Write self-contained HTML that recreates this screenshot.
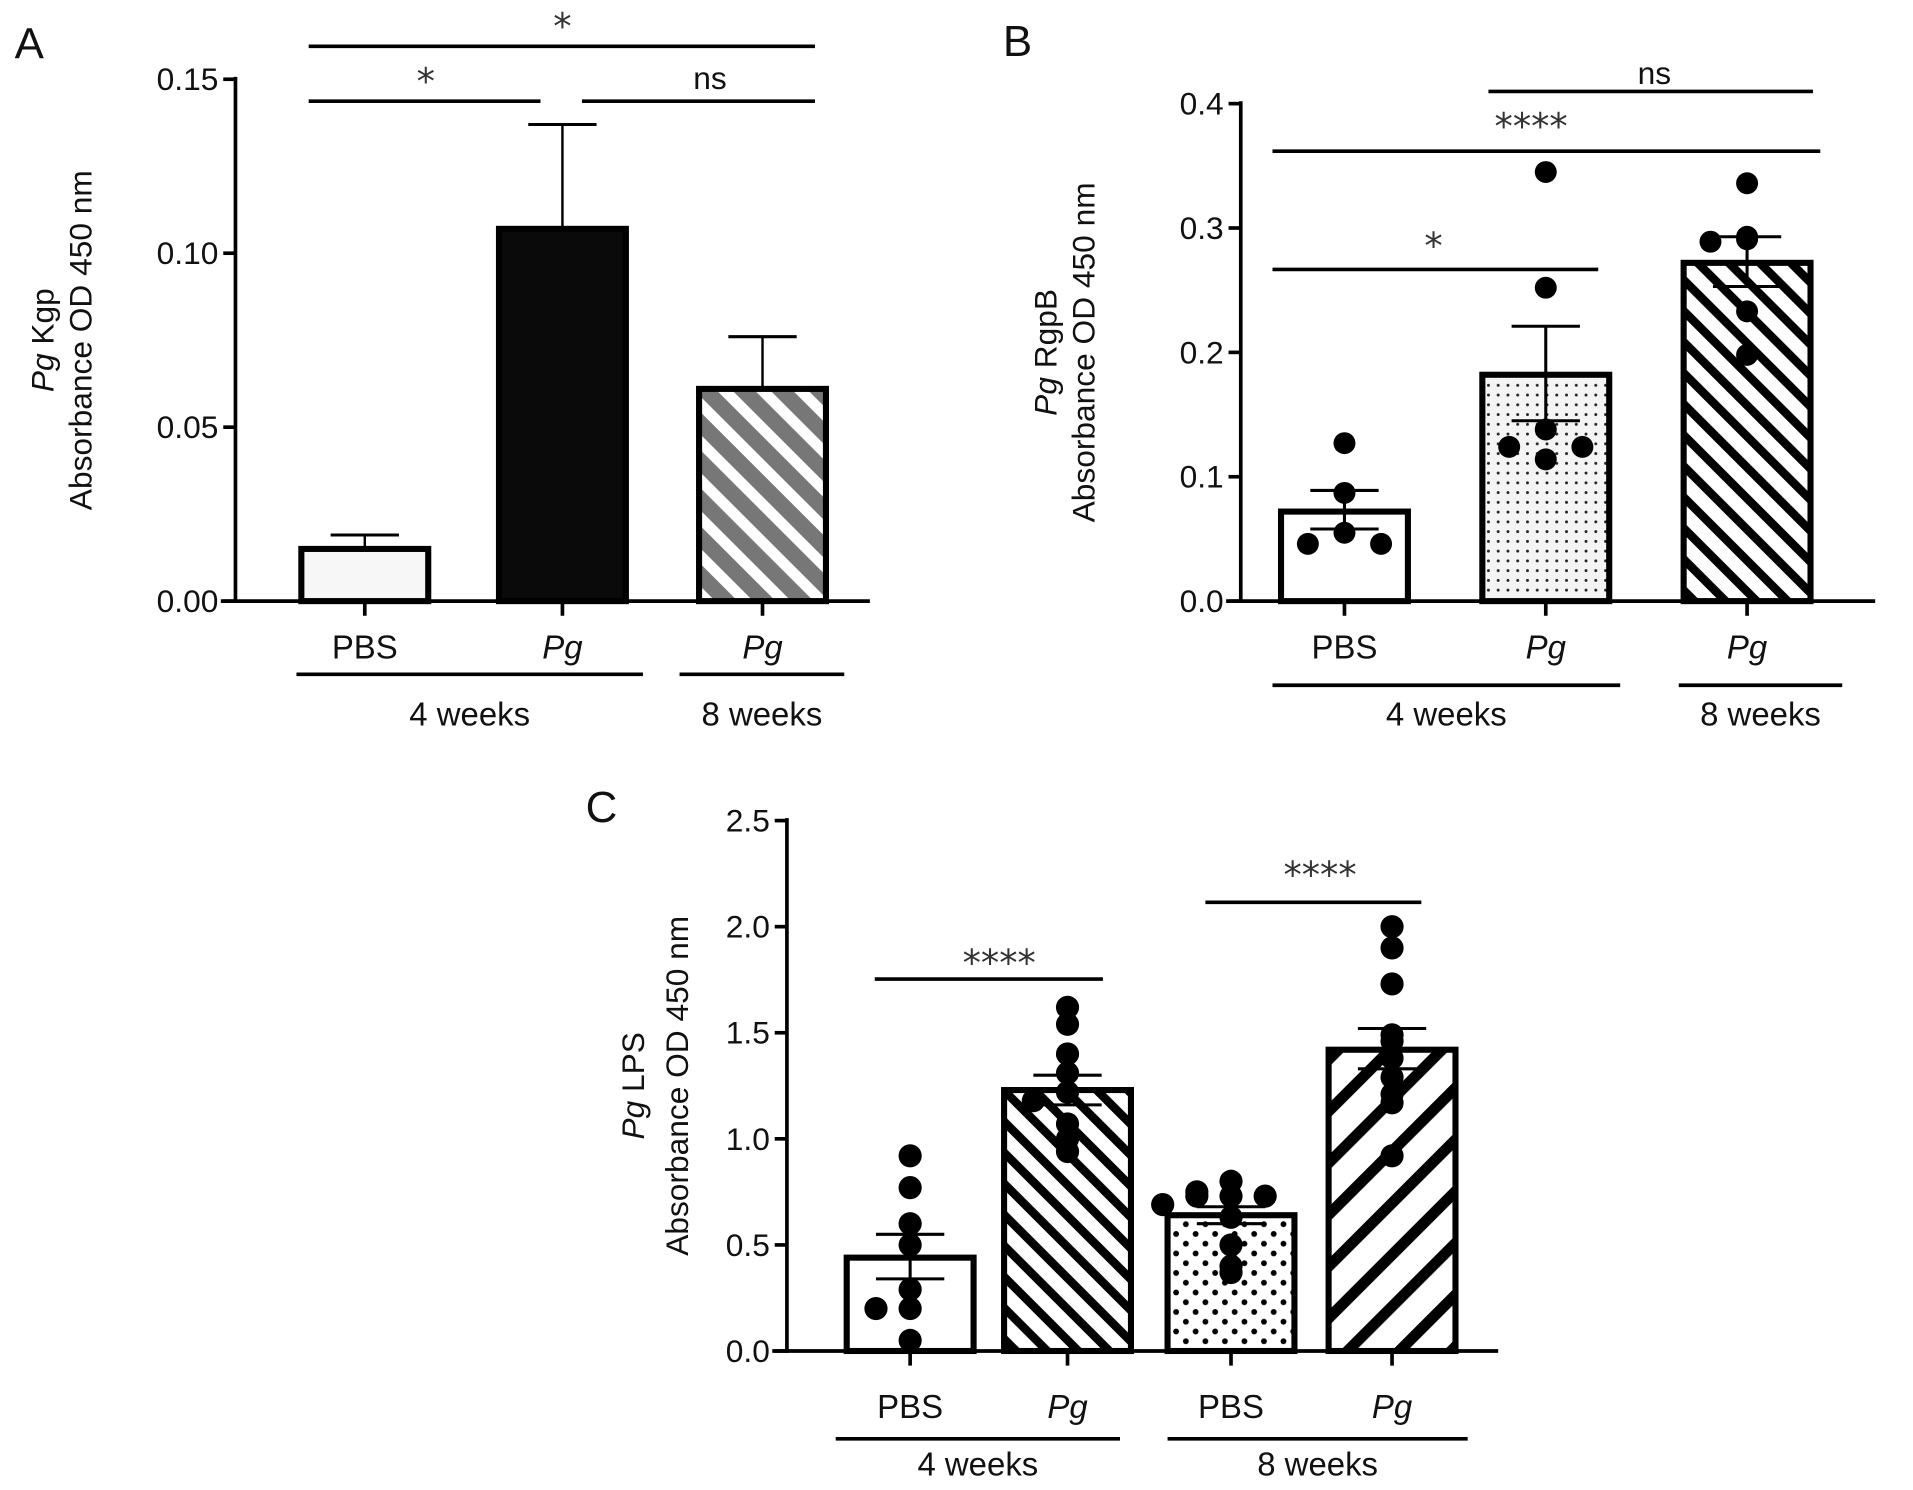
<!DOCTYPE html>
<html><head><meta charset="utf-8"><style>
html,body{margin:0;padding:0;background:#fff;}
svg{display:block;font-family:"Liberation Sans",Arial,sans-serif;}
</style></head><body>
<svg id="fig" width="1913" height="1490" viewBox="0 0 1568 1222" preserveAspectRatio="none" xmlns="http://www.w3.org/2000/svg">
<defs>
<pattern id="grayStripe" patternUnits="userSpaceOnUse" width="22" height="22" patternTransform="rotate(-45)"><rect width="22" height="22" fill="#fff"/><rect width="13" height="22" fill="#777"/></pattern>
<pattern id="blackStripe" patternUnits="userSpaceOnUse" width="18" height="18" patternTransform="rotate(-45)"><rect width="18" height="18" fill="#fff"/><rect width="7" height="18" fill="#000"/></pattern>
<pattern id="blackStripeWide" patternUnits="userSpaceOnUse" width="30" height="30" patternTransform="rotate(45)"><rect width="30" height="30" fill="#fff"/><rect width="9" height="30" fill="#000"/></pattern>
<pattern id="fineDots" patternUnits="userSpaceOnUse" width="8" height="8"><rect width="8" height="8" fill="#f4f4f4"/><circle cx="4" cy="4" r="1.2" fill="#222"/></pattern>
<pattern id="sparseDots" patternUnits="userSpaceOnUse" width="16" height="16"><rect width="16" height="16" fill="#fff"/><circle cx="4" cy="4" r="2.4" fill="#000"/><circle cx="12" cy="12" r="2.4" fill="#000"/></pattern>
</defs>
</svg>
<script>
// Panel A data
const aCats = ["PBS","Pg","Pg"];
const aMeans = [0.015, 0.107, 0.061];
const aErrHi = [0.019, 0.137, 0.076];
const aTicks = ["0.00","0.05","0.10","0.15"];
// Panel B data
const bCats = ["PBS","Pg","Pg"];
const bMeans = [0.072, 0.182, 0.272];
const bErrHi = [0.089, 0.221, 0.293];
const bErrLo = [0.058, 0.145, 0.253];
const bPts0 = [0.127, 0.087, 0.055, 0.046, 0.046];
const bPts1 = [0.345, 0.252, 0.138, 0.114, 0.124, 0.124];
const bPts2 = [0.336, 0.291, 0.293, 0.289, 0.233, 0.198];
const bTicks = ["0.0","0.1","0.2","0.3","0.4"];
// Panel C data
const cCats = ["PBS","Pg","PBS","Pg"];
const cMeans = [0.44, 1.23, 0.64, 1.42];
const cErrHi = [0.55, 1.30, 0.68, 1.52];
const cErrLo = [0.34, 1.16, 0.60, 1.33];
const cPts0 = [0.92, 0.77, 0.60, 0.50, 0.29, 0.20, 0.20, 0.05];
const cPts1 = [1.62, 1.54, 1.40, 1.31, 1.22, 1.18, 1.07, 1.00, 0.94];
const cPts2 = [0.80, 0.75, 0.73, 0.73, 0.73, 0.69, 0.63, 0.50, 0.40, 0.37];
const cPts3 = [2.00, 1.90, 1.73, 1.49, 1.46, 1.38, 1.29, 1.21, 1.17, 0.92];
const cTicks = ["0.0","0.5","1.0","1.5","2.0","2.5"];

const NS="http://www.w3.org/2000/svg";
const svg=document.getElementById('fig');
function mk(tag,attrs,parent){const e=document.createElementNS(NS,tag);for(const k in attrs)e.setAttribute(k,attrs[k]);(parent||svg).appendChild(e);return e;}
function txt(s,x,y,size,parent,anchor,italic){const t=mk('text',{x:x,y:y,'font-size':size,'text-anchor':anchor||'middle',fill:'#111'},parent);if(italic)t.setAttribute('font-style','italic');t.textContent=s;return t;}

function panel(o){
  const g=mk('g',{});
  
  
  const y=v=>o.y0-(v/o.max)*(o.y0-o.yTop);
  const ax=mk('line',{x1:o.ax,y1:o.yTop-2,x2:o.ax,y2:o.y0+1.5,stroke:'#000','stroke-width':3},g);
  
  
  o.ticks.forEach((t,i)=>{
    const v=parseFloat(t);const yy=y(v);
    mk('line',{x1:o.ax-10,y1:yy,x2:o.ax,y2:yy,stroke:'#000','stroke-width':3},g);
    const tl=txt(t,o.ax-14,yy+9,26,g,'end');
    
    
  });
  const xa=mk('line',{x1:o.ax-12,y1:o.y0,x2:o.axEnd,y2:o.y0,stroke:'#000','stroke-width':3},g);
  
  
  o.means.forEach((m,i)=>{
    const cx=o.centers[i];
    if(o.errHi){mk('line',{x1:cx,y1:y(o.errHi[i]),x2:cx,y2:y(m),stroke:'#000','stroke-width':2},g);
      mk('line',{x1:cx-28,y1:y(o.errHi[i]),x2:cx+28,y2:y(o.errHi[i]),stroke:'#000','stroke-width':2.5},g);}
    const b=mk('rect',{x:cx-o.bw/2,y:y(m),width:o.bw,height:o.y0-y(m),fill:o.fills[i],stroke:'#000','stroke-width':5},g);
    
    
    if(o.errLo){mk('line',{x1:cx,y1:y(o.errHi[i]),x2:cx,y2:y(o.errLo[i]),stroke:'#000','stroke-width':2.5},g);
      mk('line',{x1:cx-28,y1:y(o.errLo[i]),x2:cx+28,y2:y(o.errLo[i]),stroke:'#000','stroke-width':2.5},g);}
    mk('line',{x1:cx,y1:o.y0,x2:cx,y2:o.y0+12,stroke:'#000','stroke-width':3},g);
    const cl=txt(o.cats[i],cx,o.catY,27,g,'middle',o.cats[i]==='Pg');
    
    
  });
  (o.pts||[]).forEach((arr,i)=>{
    const cx=o.centers[i];const used={};
    arr.forEach((v,j)=>{
      const key=Math.round(v*o.binScale);used[key]=(used[key]||0)+1;const n=used[key]-1;
      const off=n===0?0:(n%2===1?-1:1)*Math.ceil(n/2)*o.spread;
      const c=mk('circle',{cx:cx+off,cy:y(v),r:o.r,fill:'#000'},g);
      
      
    });
  });
  o.sig.forEach(s=>{
    s.lines.forEach(l=>mk('line',{x1:l[0],y1:s.y,x2:l[1],y2:s.y,stroke:'#000','stroke-width':3},g));
    s.labels.forEach(l=>{const t=txt(l[0],l[1],l[2],l[0]==='ns'?26:30,g,'middle');
      
      
      if(l[0]!=='ns'){t.setAttribute('font-family','"DejaVu Sans",sans-serif');t.setAttribute('fill','#333');}});
  });
  o.groups.forEach(gr=>{
    mk('line',{x1:gr[1],y1:o.grpLineY,x2:gr[2],y2:o.grpLineY,stroke:'#000','stroke-width':3},g);
    const t=txt(gr[0],(gr[1]+gr[2])/2,o.grpY,27,g,'middle');
    
    
  });
  const cy=(o.y0+o.yTop)/2;
  const t1=mk('text',{x:0,y:0,'font-size':26,'text-anchor':'middle',fill:'#111',transform:`translate(${o.yl1},${cy}) rotate(-90)`},g);
  
  
  const ts=mk('tspan',{'font-style':'italic'},t1);ts.textContent='Pg';
  const ts2=mk('tspan',{},t1);ts2.textContent=' '+o.yTitle;
  const t2=mk('text',{x:0,y:0,'font-size':26,'text-anchor':'middle',fill:'#111',transform:`translate(${o.yl2},${cy}) rotate(-90)`},g);
  t2.textContent='Absorbance OD 450 nm';
  
  
  const pl=txt(o.letter,o.lx,o.ly,36,g,'middle');
  
  
}

panel({name:'panel-a',prefix:'a',letter:'A',lx:24,ly:48,ax:193,axEnd:713,y0:493,yTop:65,max:0.15,ticks:aTicks,
  cats:aCats,means:aMeans,errHi:aErrHi,centers:[299,461,625],bw:104,fills:['#f7f7f7','#0a0a0a','url(#grayStripe)'],
  catY:540,sig:[{y:38,lines:[[253,668]],labels:[['*',461,32]]},{y:83,lines:[[253,443],[477,668]],labels:[['*',349,77],['ns',582,73]]}],
  groups:[['4 weeks',243,527],['8 weeks',557,692]],grpLineY:553,grpY:595,yTitle:'Kgp',yl1:44,yl2:75});

panel({name:'panel-b',prefix:'b',letter:'B',lx:834,ly:46,ax:1017,axEnd:1537,y0:493,yTop:85,max:0.4,ticks:bTicks,
  cats:bCats,means:bMeans,errHi:bErrHi,errLo:bErrLo,centers:[1102,1267,1432],bw:104,fills:['#fff','url(#fineDots)','url(#blackStripe)'],
  pts:[bPts0,bPts1,bPts2],binScale:60,spread:30,r:9,
  catY:540,sig:[{y:75,lines:[[1220,1486]],labels:[['ns',1356,69]]},{y:124,lines:[[1043,1492]],labels:[['****',1255,114]]},{y:221,lines:[[1043,1310]],labels:[['*',1175,212]]}],
  groups:[['4 weeks',1043,1328],['8 weeks',1376,1510]],grpLineY:562,grpY:595,yTitle:'RgpB',yl1:866,yl2:897});

panel({name:'panel-c',prefix:'c',letter:'C',lx:493,ly:674,ax:645,axEnd:1228,y0:1108,yTop:673,max:2.5,ticks:cTicks,
  cats:cCats,means:cMeans,errHi:cErrHi,errLo:cErrLo,centers:[746,875,1009,1141],bw:104,fills:['#fff','url(#blackStripe)','url(#sparseDots)','url(#blackStripeWide)'],
  pts:[cPts0,cPts1,cPts2,cPts3],binScale:14,spread:28,r:9.5,
  catY:1163,sig:[{y:803,lines:[[717,904]],labels:[['****',819,800]]},{y:740,lines:[[988,1165]],labels:[['****',1082,728]]}],
  groups:[['4 weeks',685,918],['8 weeks',957,1203]],grpLineY:1180,grpY:1210,yTitle:'LPS',yl1:528,yl2:564});
</script>
</body></html>
